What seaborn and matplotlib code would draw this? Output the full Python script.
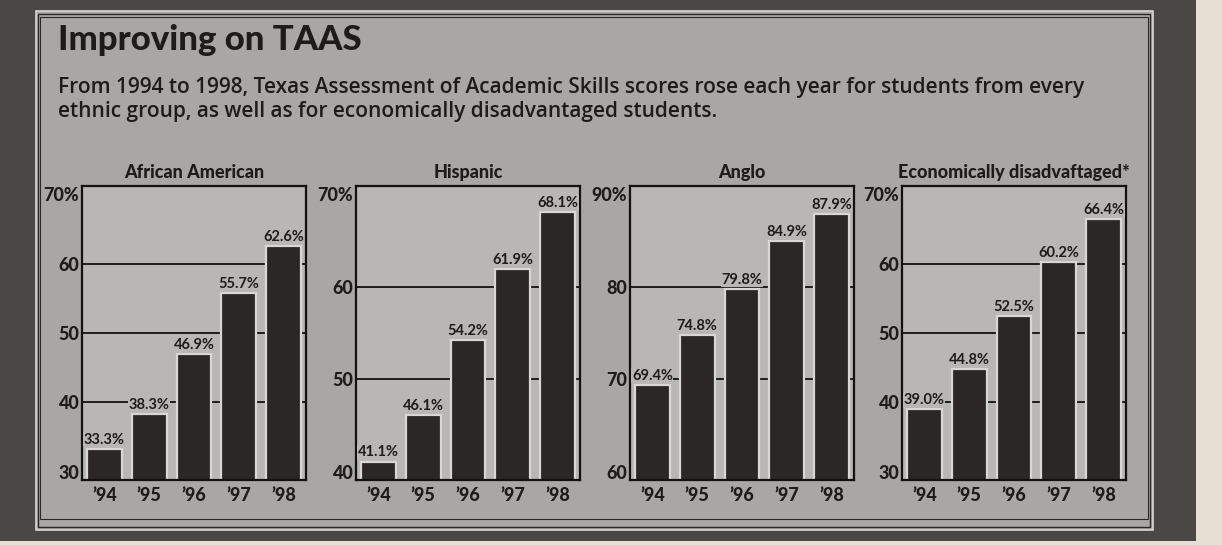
import matplotlib
matplotlib.use("Agg")
import matplotlib.pyplot as plt
from matplotlib.patches import Rectangle
import seaborn as sns

sns.set_theme(style="white")
plt.rcParams["font.family"] = ["Lato", "DejaVu Sans"]

years = ["’94", "’95", "’96", "’97", "’98"]
groups = ["African American", "Hispanic", "Anglo", "Economically disadvaftaged*"]
african_american = [33.3, 38.3, 46.9, 55.7, 62.6]
hispanic = [41.1, 46.1, 54.2, 61.9, 68.1]
anglo = [69.4, 74.8, 79.8, 84.9, 87.9]
econ_disadv = [39.0, 44.8, 52.5, 60.2, 66.4]
series = [african_american, hispanic, anglo, econ_disadv]
ticks = [[30, 40, 50, 60, 70], [40, 50, 60, 70], [60, 70, 80, 90], [30, 40, 50, 60, 70]]

title = "Improving on TAAS"
subtitle = ("From 1994 to 1998, Texas Assessment of Academic Skills scores rose each year for students from every\n"
            "ethnic group, as well as for economically disadvantaged students.")

W, H = 1222, 545
paper = "#e6e0d3"
frame = "#4a4745"
panel = "#a9a7a4"
plot_bg = "#b9b7b3"
bar_col = "#2b2727"
ink = "#1e1b1b"

fig = plt.figure(figsize=(W / 100, H / 100), dpi=100)
fig.patch.set_facecolor(paper)


def px_rect(x0, y0, x1, y1, **kw):
    # pixel box measured from the top-left corner, kept under the axes
    fig.patches.append(Rectangle((x0 / W, 1 - y1 / H), (x1 - x0) / W, (y1 - y0) / H,
                                 transform=fig.transFigure, zorder=-5, **kw))


px_rect(0, 0, 1196, 541, facecolor=frame, edgecolor="none")
px_rect(36, 11, 1153, 530, facecolor=panel, edgecolor="#d8d6d2", linewidth=1.2)
px_rect(38, 14, 1150, 527, facecolor="none", edgecolor="#2a2828", linewidth=1.0)
px_rect(40, 17, 1148, 519, facecolor="none", edgecolor="#2a2828", linewidth=0.8)

fig.text(58 / W, 1 - 50 / H, title, fontsize=25, fontweight="black", color=ink, va="baseline")
fig.text(58 / W, 1 - 77 / H, subtitle, fontsize=15, fontweight="semibold", color=ink,
         va="top", linespacing=1.2, family=["Open Sans", "DejaVu Sans"])

lefts = [82, 356, 630, 902]
ax_w, ax_top, ax_bot = 224, 186, 480

for i, (name, vals, tk) in enumerate(zip(groups, series, ticks)):
    ax = fig.add_axes([lefts[i] / W, 1 - ax_bot / H, ax_w / W, (ax_bot - ax_top) / H])
    ax.set_facecolor(plot_bg)
    lo, hi = tk[0], tk[-1]
    pad = 0.03 * (hi - lo)
    for t in tk[1:-1]:
        ax.axhline(t, color="#111111", linewidth=1.3, zorder=0.5)
    sns.barplot(x=years, y=vals, color=bar_col, saturation=1, width=0.78,
                edgecolor="#d9d7d3", linewidth=1.6, ax=ax, zorder=2)
    ax.set_ylim(lo - pad, hi + pad)
    ax.set_xlim(-0.5, 4.5)
    ax.set_yticks(tk)
    ax.set_yticklabels([f"{t}%" if t == hi else f"{t}" for t in tk])
    for c in ax.containers:
        ax.bar_label(c, labels=[f"{v:.1f}%" for v in vals], padding=1.5, fontsize=10.5,
                     fontweight="bold", color=ink, zorder=3,
                     bbox=dict(facecolor=plot_bg, edgecolor="none", pad=0.3))
    ax.tick_params(axis="both", length=0, labelsize=13, colors=ink, pad=2)
    for lab in ax.get_xticklabels() + ax.get_yticklabels():
        lab.set_fontweight("black")
    ax.tick_params(axis="x", pad=5)
    for s in ax.spines.values():
        s.set_color("#111111")
        s.set_linewidth(1.6)
    ax.set_xlabel("")
    ax.set_ylabel("")
    ax.set_title(name, fontsize=13, fontweight="black", color=ink, pad=6)

fig.savefig("out.png", dpi=100, facecolor=fig.get_facecolor())
